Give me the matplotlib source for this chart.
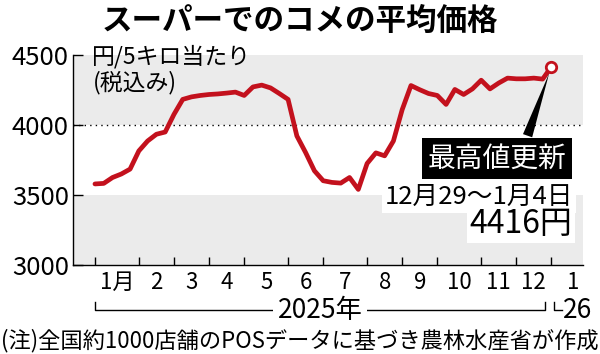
import numpy as np
import matplotlib
matplotlib.use("Agg")
import matplotlib.pyplot as plt
import matplotlib.transforms as mtransforms

plt.rcParams['font.family'] = ['Noto Sans CJK JP', 'DejaVu Sans']

# -------------------- data --------------------
# week 0 = Dec 30 2024 - Jan 5 2025, week 52 = Dec 29 2025 - Jan 4 2026
weeks = np.arange(53)
price = [3579, 3583, 3625, 3650, 3685, 3815, 3886, 3934, 3950, 4076,
         4183, 4201, 4211, 4218, 4222, 4228, 4235, 4211, 4272, 4285,
         4265, 4225, 4183, 3922, 3803, 3673, 3602, 3590, 3585, 3625,
         3540, 3725, 3801, 3780, 3886, 4110, 4282, 4252, 4225, 4211,
         4147, 4254, 4218, 4258, 4320, 4258, 4300, 4335, 4330, 4330,
         4335, 4328, 4416]

month_start_week = [0, 5, 9, 13, 17, 22, 26, 31, 35, 39, 44, 48, 52]
month_labels = ['1月', '2', '3', '4', '5', '6', '7', '8', '9', '10', '11', '12', '1']
yticks = [3000, 3500, 4000, 4500]

red = '#c3111d'
gray = '#ebebeb'

# -------------------- figure --------------------
fig = plt.figure(figsize=(6, 3.54), dpi=100)
ax = fig.add_axes([0.1217, 0.2514, 0.85, 0.5932])
ax.set_xlim(-2.5, 55.6)
ax.set_ylim(3000, 4500)

ax.axhspan(4000, 4500, color=gray, lw=0, zorder=0)
ax.axhspan(3000, 3500, color=gray, lw=0, zorder=0)
ax.axhline(4000, color='black', lw=1, ls=(0, (1, 3)), zorder=1)

ax.plot(weeks, price, color=red, lw=3.4, solid_joinstyle='round',
        solid_capstyle='round', zorder=3)
ax.plot(weeks[-1], price[-1], 'o', ms=7.5, mfc='white', mec=red, mew=2, zorder=4)

for s in ['top', 'right']:
    ax.spines[s].set_visible(False)
for s in ['left', 'bottom']:
    ax.spines[s].set_linewidth(1)

ax.set_yticks(yticks)
ax.set_yticklabels([str(v) for v in yticks])
ax.tick_params(axis='y', direction='in', length=7, width=1, labelsize=18.5, pad=3)

# month boundaries as ticks, names centred in between
mids = [(a + b) / 2 for a, b in zip(month_start_week[:-1], month_start_week[1:])]
mids.append(month_start_week[-1] + 2.5)
ax.set_xticks(month_start_week)
ax.set_xticklabels([])
ax.set_xticks(mids, minor=True)
ax.set_xticklabels(month_labels, minor=True)
ax.tick_params(axis='x', which='major', direction='in', length=6, width=1)
ax.tick_params(axis='x', which='minor', length=0, labelsize=16, pad=4)

# year bracket under the axis
trans = mtransforms.blended_transform_factory(ax.transData, ax.transAxes)
ax.plot([0, 0, 51.3, 51.3], [-0.176, -0.214, -0.214, -0.176], transform=trans,
        color='black', lw=1, clip_on=False)
ax.text(25.65, -0.219, '2025年', transform=trans, ha='center', va='center',
        fontsize=19, bbox=dict(fc='white', ec='none', pad=3))
ax.plot([52.3, 52.3, 53.2], [-0.176, -0.214, -0.214], transform=trans,
        color='black', lw=1, clip_on=False)
ax.text(53.3, -0.219, '26', transform=trans, ha='left', va='center', fontsize=19)

# unit label
ax.text(-0.3, 4490, '円/5キロ当たり', ha='left', va='center', fontsize=16.5)
ax.text(-0.2, 4300, '(税込み)', ha='left', va='center', fontsize=16.5)

# record high note
ax.annotate('最高値更新', xy=(weeks[-1], price[-1]), xytext=(45.8, 3758),
            ha='center', va='center', fontsize=20, color='white',
            bbox=dict(fc='black', ec='none', pad=4),
            arrowprops=dict(arrowstyle='wedge,tail_width=0.35', fc='black',
                            ec='none', relpos=(0.7, 1.0), shrinkB=5),
            zorder=5)
ax.text(54.5, 3488, '12月29～1月4日', ha='right', va='center', fontsize=18.5,
        bbox=dict(fc='white', ec='none', pad=2), zorder=5)
ax.text(54.4, 3290, '4416円', ha='right', va='center', fontsize=23,
        bbox=dict(fc='white', ec='none', pad=2), zorder=5)

# title and footnote
fig.text(0.5, 1 - 21 / 354, 'スーパーでのコメの平均価格', ha='center', va='center',
         fontsize=22, fontweight='bold')
fig.text(0.5, 1 - 341 / 354, '(注)全国約1000店舗のPOSデータに基づき農林水産省が作成',
         ha='center', va='center', fontsize=16)

fig.savefig('out.png', dpi=100)
